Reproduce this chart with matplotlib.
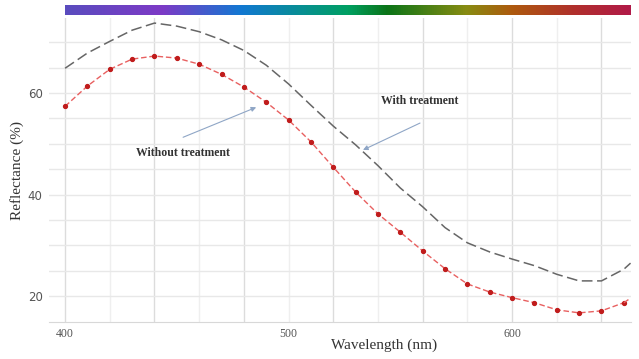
import numpy as np
import matplotlib
matplotlib.use('Agg')
import matplotlib.pyplot as plt
from matplotlib.colors import LinearSegmentedColormap

# wavelength grid (nm) and reflectance (%)
wavelength = [400, 410, 420, 430, 440, 450, 460, 470, 480, 490, 500, 510, 520,
              530, 540, 550, 560, 570, 580, 590, 600, 610, 620, 630, 640, 650, 653]
with_treatment = [64.9, 67.9, 70.2, 72.4, 73.8, 73.2, 72.1, 70.5, 68.4, 65.5, 61.8,
                  57.6, 53.5, 49.8, 45.7, 41.3, 37.6, 33.5, 30.5, 28.7, 27.3, 26.0,
                  24.3, 23.0, 23.0, 25.3, 26.5]
without_treatment = [57.4, 61.4, 64.7, 66.7, 67.3, 66.9, 65.7, 63.7, 61.2, 58.2, 54.7,
                     50.4, 45.4, 40.5, 36.2, 32.6, 28.9, 25.4, 22.4, 20.8, 19.7, 18.7,
                     17.3, 16.7, 17.1, 18.7, 19.6]

x_ticks = [400, 500, 600]
y_ticks = [20, 40, 60]

# spectrum strip colours (position along strip, colour)
spectrum = [(0.00, '#5a4cbe'), (0.17, '#7d3ac6'), (0.31, '#1278d2'), (0.50, '#00a062'),
            (0.57, '#0b7418'), (0.71, '#888c12'), (0.79, '#ad5a0e'), (0.90, '#b0302c'),
            (1.00, '#b01a48')]

fig = plt.figure(figsize=(6.39, 3.59), dpi=100)
ax = fig.add_axes([49/639, 1-322/359, 582/639, 304/359])

# grid: major every 40 nm, minor in between; horizontal every 5 %
for xv in np.arange(400, 660, 20):
    strong = (xv - 400) % 40 == 0
    ax.axvline(xv, color='#dcdcdc' if strong else '#efefef', lw=1.0, zorder=0)
for yv in np.arange(20, 75, 5):
    ax.axhline(yv, color='#e8e8e8', lw=1.0, zorder=0)

ax.plot(wavelength, with_treatment, color='#666666', lw=1.1,
        dashes=(7, 3), zorder=3)
ax.plot(wavelength[:-1], without_treatment[:-1], color='#e86060', lw=1.0,
        dashes=(4, 2), marker='o', ms=2.8, mfc='#c01c1c', mec='#c01c1c', zorder=3)
ax.plot(wavelength[-2:], without_treatment[-2:], color='#e86060', lw=1.0,
        dashes=(4, 2), zorder=3)

ax.set_xlim(392.8, 653.2)
ax.set_ylim(14.9, 74.8)
ax.set_xticks(x_ticks)
ax.set_yticks(y_ticks)
ax.set_xticklabels([str(t) for t in x_ticks], family='Liberation Serif',
                   fontsize=8.5, color='#555555')
ax.set_yticklabels([str(t) for t in y_ticks], fontsize=8.5, color='#555555')
ax.tick_params(axis='x', length=0, pad=4.5)
ax.tick_params(axis='y', length=0, pad=4.5)
for s in ['top', 'right', 'left']:
    ax.spines[s].set_visible(False)
ax.spines['bottom'].set_color('#d8d8d8')

ax.set_xlabel('Wavelength (nm)', family='Liberation Serif', fontsize=11,
              color='#333333')
ax.xaxis.set_label_coords(0.575, -0.055)
ax.set_ylabel('Reflectance (%)', family='Liberation Serif', fontsize=11,
              color='#333333')
ax.yaxis.set_label_coords(-0.043, 0.5)

arrow = dict(arrowstyle='-|>', color='#8fa6c6', lw=0.8, mutation_scale=7,
             shrinkA=0, shrinkB=0)
ax.annotate('', xy=(485.5, 57.2), xytext=(452.8, 51.3), arrowprops=arrow)
ax.text(452.8, 48.2, 'Without treatment', family='Liberation Serif',
        weight='bold', fontsize=8.5, color='#333333', ha='center', va='center')
ax.annotate('', xy=(533.3, 48.8), xytext=(558.8, 54.1), arrowprops=arrow)
ax.text(558.8, 58.4, 'With treatment', family='Liberation Serif',
        weight='bold', fontsize=8.5, color='#333333', ha='center', va='center')

# spectrum strip above the plot
cax = fig.add_axes([65/639, 1-15/359, 566/639, 10/359])
cmap = LinearSegmentedColormap.from_list('spec', spectrum)
cax.imshow(np.linspace(0, 1, 512)[None, :], aspect='auto', cmap=cmap,
           extent=[0, 1, 0, 1])
cax.set_axis_off()

fig.savefig('out.png', dpi=100)
